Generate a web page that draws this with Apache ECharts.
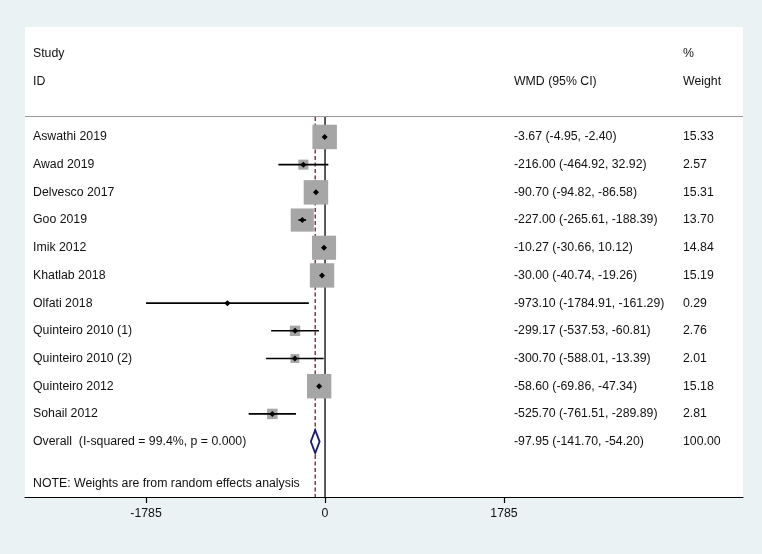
<!DOCTYPE html>
<html><head><meta charset="utf-8">
<script src="https://cdn.jsdelivr.net/npm/echarts@6/dist/echarts.min.js"></script>
<style>html,body{margin:0;padding:0;background:#eaf2f3}#c{width:762px;height:554px}</style>
</head><body><div id="c"></div>
<script>
const studies = ['Aswathi 2019','Awad 2019','Delvesco 2017','Goo 2019','Imik 2012','Khatlab 2018','Olfati 2018','Quinteiro 2010 (1)','Quinteiro 2010 (2)','Quinteiro 2012','Sohail 2012'];
const wmd    = [-3.67, -216.00, -90.70, -227.00, -10.27, -30.00, -973.10, -299.17, -300.70, -58.60, -525.70];
const ciLow  = [-4.95, -464.92, -94.82, -265.61, -30.66, -40.74, -1784.91, -537.53, -588.01, -69.86, -761.51];
const ciHigh = [-2.40, 32.92, -86.58, -188.39, 10.12, -19.26, -161.29, -60.81, -13.39, -47.34, -289.89];
const weights = [15.33, 2.57, 15.31, 13.70, 14.84, 15.19, 0.29, 2.76, 2.01, 15.18, 2.81];
const overallLabel = 'Overall  (I-squared = 99.4%, p = 0.000)';
const overallEst = -97.95, overallLow = -141.70, overallHigh = -54.20, overallWeight = 100.00;
const tickValues = [-1785, 0, 1785];
const noteText = 'NOTE: Weights are from random effects analysis';

const FONT = '"Liberation Sans", Arial, sans-serif';
const FS = '12.3px ';
const TXT = '#111';
const fmt = v => v.toFixed(2);
const nRows = studies.length;          // overall row index = nRows
const plotTopRow = -0.72, plotBottomRow = 13.0;
const boxScale = 24.5 / Math.sqrt(15.33);

const chart = echarts.init(document.getElementById('c'), null, {renderer:'canvas'});

const studyData = studies.map((s,i)=>[wmd[i], i, ciLow[i], ciHigh[i], weights[i]]);

chart.setOption({
  backgroundColor:'#eaf2f3',
  animation:false,
  grid:{left:25, right:19, top:27, bottom:57, show:true, backgroundColor:'#ffffff', borderWidth:0},
  xAxis:{type:'value', min:-2992, max:4168, position:'bottom',
    axisLine:{show:true, onZero:false, lineStyle:{color:'#000', width:1.2}},
    axisTick:{show:true, customValues:tickValues, length:6, lineStyle:{color:'#000', width:1.2}},
    axisLabel:{show:true, customValues:tickValues, color:TXT, fontSize:12.3, fontFamily:FONT, margin:11,
      formatter:v=>String(v)},
    splitLine:{show:false}},
  yAxis:{type:'value', inverse:true, min:-3.97, max:plotBottomRow, show:false},
  graphic:[
    {type:'line', shape:{x1:25,y1:116.5,x2:743,y2:116.5}, style:{stroke:'#9a9a9a', lineWidth:1.2}, z:100},
    {type:'text', left:33, top:48, style:{text:'Study', fill:TXT, font:FS+FONT}, z:100},
    {type:'text', left:33, top:76, style:{text:'ID', fill:TXT, font:FS+FONT}, z:100},
    {type:'text', left:683, top:48, style:{text:'%', fill:TXT, font:FS+FONT}, z:100},
    {type:'text', left:514, top:76, style:{text:'WMD (95% CI)', fill:TXT, font:FS+FONT}, z:100},
    {type:'text', left:683, top:76, style:{text:'Weight', fill:TXT, font:FS+FONT}, z:100}
  ],
  series:[
    { // reference lines
      type:'custom', z:1, silent:true,
      data:[[0,0],[overallEst,1]],
      renderItem:(p,api)=>{
        const x=api.value(0), kind=api.value(1);
        const a=api.coord([x,plotTopRow]), b=api.coord([x,plotBottomRow]);
        return {type:'line', shape:{x1:a[0],y1:a[1],x2:b[0],y2:b[1]},
          style: kind===0 ? {stroke:'#000', lineWidth:1.3} : {stroke:'#6e1e2a', lineWidth:1.3, lineDash:[4,2.5]}};
      }
    },
    { // studies
      type:'custom', z:3, silent:true,
      data:studyData,
      renderItem:(p,api)=>{
        const c=api.coord([api.value(0), api.value(1)]);
        const lo=api.coord([api.value(2), api.value(1)]);
        const hi=api.coord([api.value(3), api.value(1)]);
        const side=boxScale*Math.sqrt(api.value(4));
        const d=3;
        return {type:'group', children:[
          {type:'rect', shape:{x:c[0]-side/2, y:c[1]-side/2, width:side, height:side}, style:{fill:'#a6a6a6'}},
          {type:'line', shape:{x1:lo[0],y1:c[1],x2:hi[0],y2:c[1]}, style:{stroke:'#000', lineWidth:1.6}},
          {type:'polygon', shape:{points:[[c[0]-d,c[1]],[c[0],c[1]-d],[c[0]+d,c[1]],[c[0],c[1]+d]]}, style:{fill:'#000'}}
        ]};
      }
    },
    { // overall diamond
      type:'custom', z:3, silent:true,
      data:[[overallEst, nRows, overallLow, overallHigh]],
      renderItem:(p,api)=>{
        const c=api.coord([api.value(0), api.value(1)]);
        const lo=api.coord([api.value(2), api.value(1)]);
        const hi=api.coord([api.value(3), api.value(1)]);
        const h=11.5;
        return {type:'polygon', shape:{points:[[lo[0],c[1]],[c[0],c[1]-h],[hi[0],c[1]],[c[0],c[1]+h]]},
          style:{fill:'#fff', stroke:'#1c1c6e', lineWidth:1.8}};
      }
    },
    { // text columns
      type:'custom', z:5, silent:true,
      data:studies.map((s,i)=>[i]).concat([[nRows],[nRows+1.5]]),
      renderItem:(p,api)=>{
        const r=api.value(0);
        const y=api.coord([0,r])[1];
        let name, val, w;
        if (r<nRows) { name=studies[r]; val=fmt(wmd[r])+' ('+fmt(ciLow[r])+', '+fmt(ciHigh[r])+')'; w=fmt(weights[r]); }
        else if (r===nRows) { name=overallLabel; val=fmt(overallEst)+' ('+fmt(overallLow)+', '+fmt(overallHigh)+')'; w=fmt(overallWeight); }
        else { name=noteText; val=''; w=''; }
        const st=t=>({text:t, fill:TXT, font:FS+FONT, verticalAlign:'middle', align:'left'});
        return {type:'group', children:[
          {type:'text', x:33, y:y, style:st(name)},
          {type:'text', x:514, y:y, style:st(val)},
          {type:'text', x:683, y:y, style:st(w)}
        ]};
      }
    }
  ]
});
</script></body></html>
